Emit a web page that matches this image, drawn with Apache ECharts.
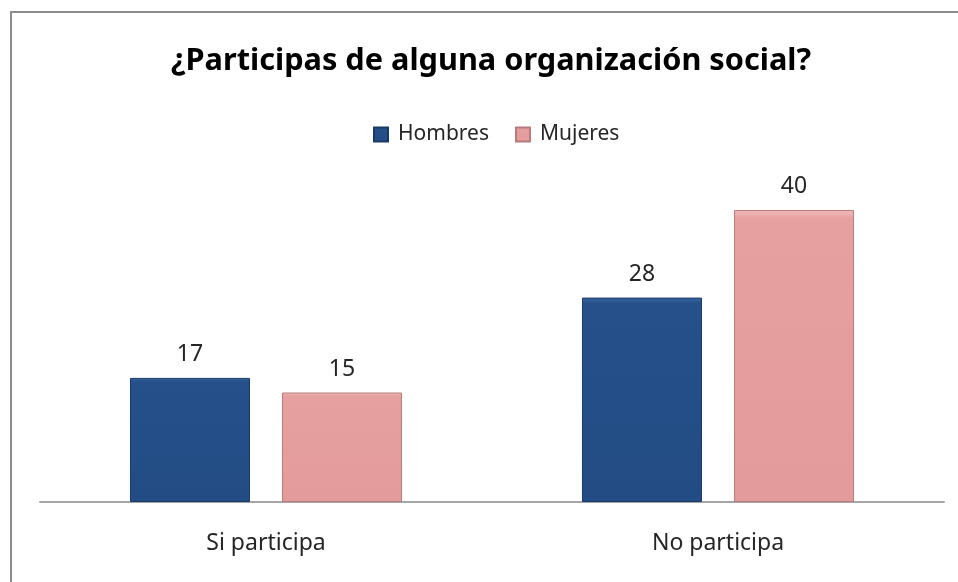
<!DOCTYPE html>
<html>
<head>
<meta charset="utf-8">
<script src="https://cdn.jsdelivr.net/npm/echarts@6/dist/echarts.min.js"></script>
<style>
html,body{margin:0;padding:0;background:#fff;}
#chart{width:958px;height:582px;}
</style>
</head>
<body>
<div id="chart"></div>
<script>
const categories = ['Si participa', 'No participa'];
const seriesNames = ['Hombres', 'Mujeres'];
const hombres = [17, 28];
const mujeres = [15, 40];

const chart = echarts.init(document.getElementById('chart'));
const FONT = '"Noto Sans", "Open Sans", sans-serif';
chart.setOption({
  backgroundColor: '#fff',
  animation: false,
  title: {
    text: '¿Participas de alguna organización social?',
    left: 486,
    top: 41,
    textAlign: 'center',
    textStyle: { fontFamily: FONT, fontSize: 30.7, fontWeight: 'bold', color: '#000' }
  },
  legend: {
    data: seriesNames,
    left: 368,
    top: 119,
    icon: 'rect',
    itemWidth: 14,
    itemHeight: 14,
    itemGap: 26,
    textStyle: { fontFamily: FONT, fontSize: 21, color: '#262626', padding: [0, 0, 0, 5] }
  },
  graphic: [{
    type: 'rect',
    shape: { x: 11, y: 12, width: 1200, height: 1200 },
    style: { fill: 'none', stroke: '#8c8c8c', lineWidth: 2 },
    silent: true
  }],
  grid: { left: 40, right: 14, top: 210, bottom: 80 },
  xAxis: {
    type: 'category',
    data: categories,
    axisTick: { show: false },
    axisLine: { lineStyle: { color: '#a6a6a6', width: 2 } },
    axisLabel: { fontFamily: FONT, fontSize: 23, color: '#262626', margin: 30 }
  },
  yAxis: {
    type: 'value',
    min: 0,
    max: 40,
    show: false,
    splitLine: { show: false }
  },
  series: [
    {
      name: 'Hombres',
      type: 'bar',
      data: hombres,
      barWidth: 120,
      barGap: '26.7%',
      itemStyle: {
        color: new echarts.graphic.LinearGradient(0, 0, 0, 1, [
          { offset: 0, color: '#3a66a0' },
          { offset: 0.03, color: '#25508a' },
          { offset: 1, color: '#234c84' }
        ]),
        borderColor: '#1a3a66',
        borderWidth: 1
      },
      label: { show: true, position: 'top', distance: 12, fontFamily: FONT, fontSize: 23, color: '#262626' }
    },
    {
      name: 'Mujeres',
      type: 'bar',
      data: mujeres,
      barWidth: 120,
      itemStyle: {
        color: new echarts.graphic.LinearGradient(0, 0, 0, 1, [
          { offset: 0, color: '#f0bcbb' },
          { offset: 0.03, color: '#e6a09f' },
          { offset: 1, color: '#e39c9b' }
        ]),
        borderColor: '#b87b7a',
        borderWidth: 1
      },
      label: { show: true, position: 'top', distance: 12, fontFamily: FONT, fontSize: 23, color: '#262626' }
    }
  ]
});
</script>
</body>
</html>
